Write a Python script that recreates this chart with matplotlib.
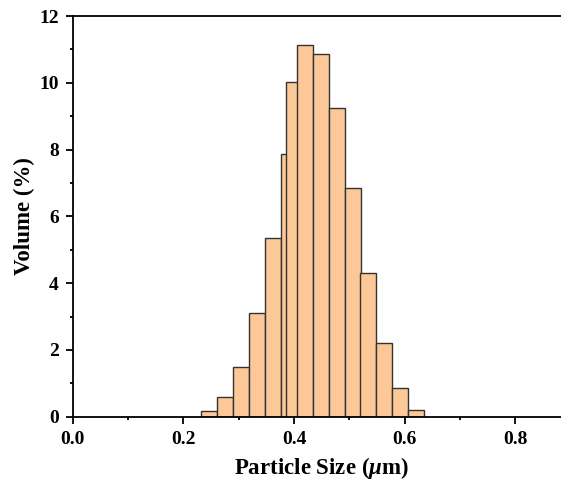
import matplotlib
matplotlib.use("Agg")
import matplotlib.pyplot as plt
from matplotlib.ticker import MultipleLocator

# =========================
# DATA
# =========================

bin_centers = [0.2458, 0.2747, 0.3036, 0.3324, 0.3613, 0.3902, 0.4004, 0.4190,
               0.4479, 0.4768, 0.5057, 0.5345, 0.5634, 0.5923, 0.6212]
volume = [0.18, 0.58, 1.50, 3.10, 5.35, 7.87, 10.02, 11.13,
          10.85, 9.25, 6.85, 4.30, 2.22, 0.85, 0.20]
bin_width = 0.0289

# =========================
# PLOT
# =========================

plt.rcParams['font.family'] = ['Liberation Serif', 'DejaVu Serif']
plt.rcParams['font.weight'] = 'bold'
plt.rcParams['mathtext.fontset'] = 'custom'
plt.rcParams['mathtext.it'] = 'Liberation Serif:italic:bold'
plt.rcParams['mathtext.rm'] = 'Liberation Serif:bold'

fig = plt.figure(figsize=(5.61, 4.82), dpi=100)
# x axis runs 0..0.9, right spine falls just past the image edge
ax = fig.add_axes([0.1294, 0.1355, 0.888, 0.8313])

ax.bar(bin_centers, volume, width=bin_width, color='#fdc897',
       edgecolor='#333333', linewidth=1.0)

ax.set_xlim(0, 0.9)
ax.set_ylim(0, 12)
ax.xaxis.set_major_locator(MultipleLocator(0.2))
ax.xaxis.set_minor_locator(MultipleLocator(0.1))
ax.yaxis.set_major_locator(MultipleLocator(2))
ax.yaxis.set_minor_locator(MultipleLocator(1))
ax.set_xticks([0.0, 0.2, 0.4, 0.6, 0.8])
ax.set_xticklabels(['0.0', '0.2', '0.4', '0.6', '0.8'])

for s in ax.spines.values():
    s.set_linewidth(1.3)
ax.tick_params(which='major', direction='out', length=5, width=1.3,
               labelsize=14, pad=5)
ax.tick_params(which='minor', direction='out', length=2.5, width=1.3)

ax.set_xlabel(r'Particle Size ($\mu$m)', fontsize=16.5, fontweight='bold',
              labelpad=5)
ax.set_ylabel('Volume (%)', fontsize=16.5, fontweight='bold', labelpad=3)

fig.savefig('out.png', dpi=100)
